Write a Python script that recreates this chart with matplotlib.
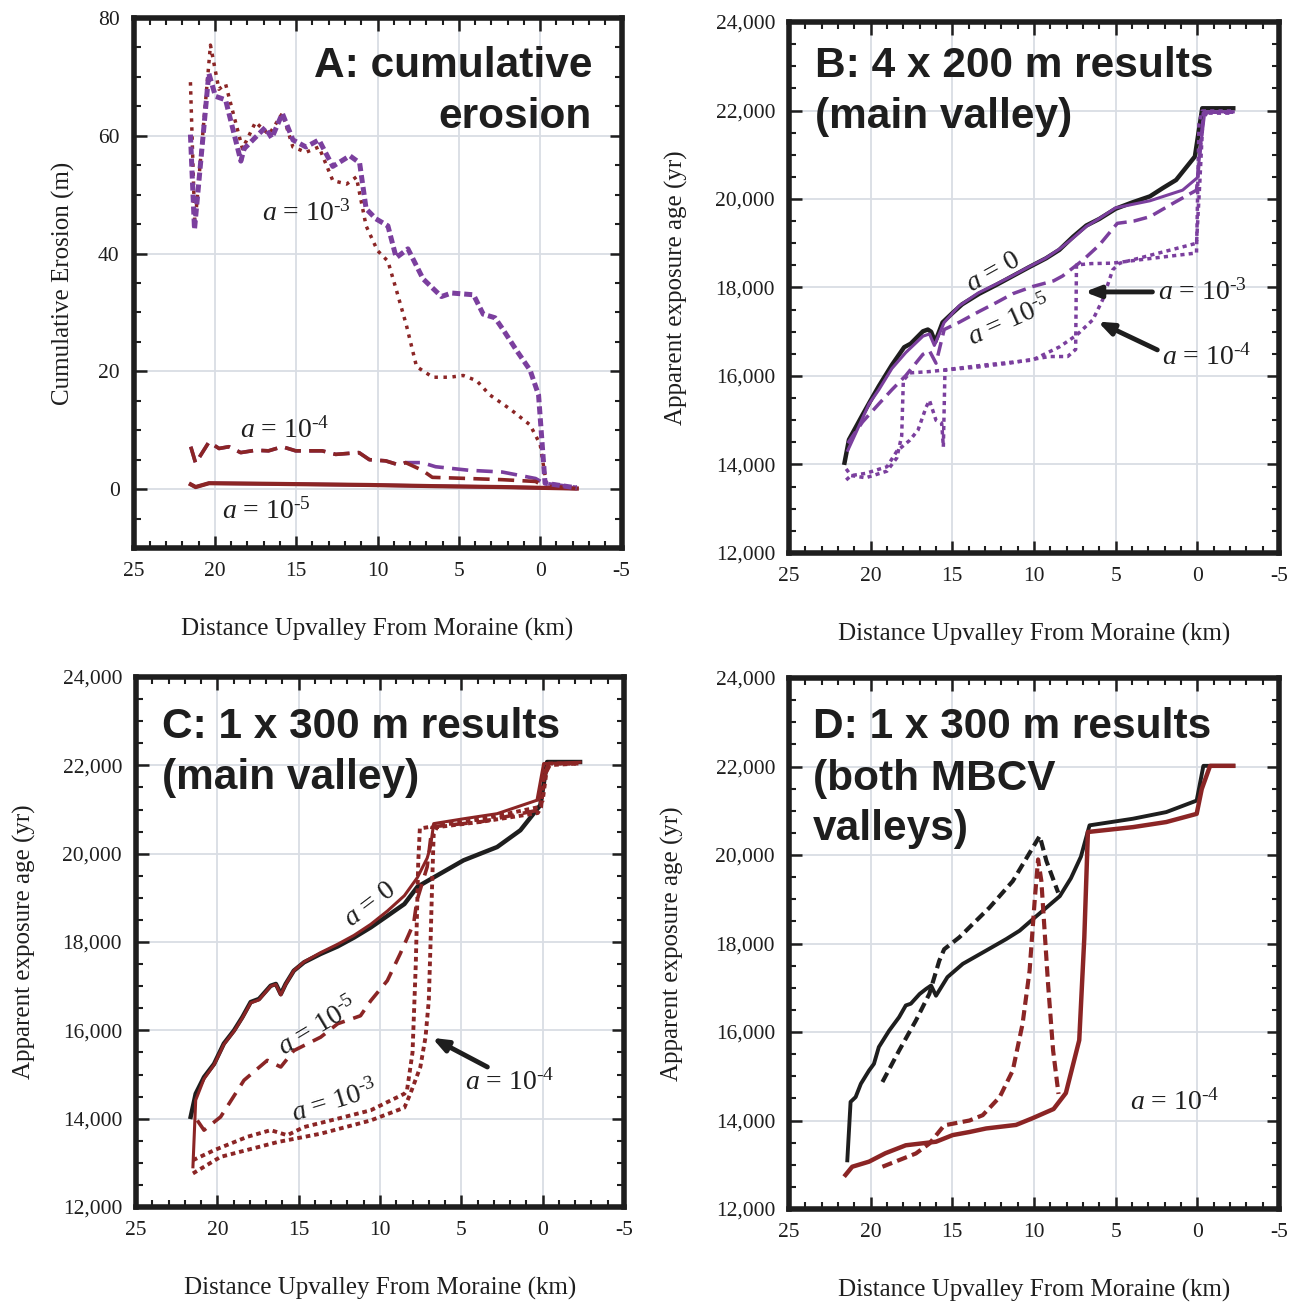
import matplotlib
matplotlib.use("Agg")
import matplotlib.pyplot as plt
from matplotlib.ticker import MultipleLocator, StrMethodFormatter

plt.rcParams["font.family"] = ["Liberation Serif", "DejaVu Serif"]
plt.rcParams["mathtext.fontset"] = "custom"
plt.rcParams["mathtext.rm"] = "Liberation Serif"
plt.rcParams["mathtext.it"] = "Liberation Serif:italic"
plt.rcParams["axes.unicode_minus"] = False

PURPLE = "#7b3f9e"
BROWN = "#8b2525"
BLACK = "#1e1e1e"
GRID = "#d9dde4"

# ---------------- Panel A: cumulative erosion ----------------
a3_purple_x = [21.5, 21.25, 20.37, 19.96, 19.34, 18.4, 18.2, 16.9, 16.5, 15.85, 15.2, 14.4, 13.6, 12.75,
               11.7, 11.1, 10.7, 10.1, 9.36, 8.85, 8.13, 7.2, 6.07, 5.45, 4.1, 3.5, 2.78, 2.26, 1.44,
               0.62, 0.1, -0.3, -2.25]
a3_purple_y = [60.2, 44.1, 70.6, 66.7, 66.1, 55.7, 57.8, 61.4, 59.6, 63.8, 59.3, 58.1, 59.3, 54.8,
               56.6, 55.4, 47.6, 45.9, 44.7, 39.3, 40.8, 35.7, 32.7, 33.3, 33.0, 29.7, 29.1, 27.0, 23.5,
               20.2, 16.0, 1.0, 0.2]
a3_brown_x = [21.5, 21.23, 20.27, 19.75, 19.34, 18.3, 17.5, 16.67, 15.85, 15.2, 14.4, 13.6, 12.75, 11.9,
              11.3, 10.7, 10.0, 9.36, 8.85, 8.23, 7.6, 6.6, 5.55, 4.73, 3.9, 3.1, 1.85, 0.62, 0.0, -0.4,
              -2.25]
a3_brown_y = [69.1, 44.7, 75.4, 67.9, 68.8, 57.8, 62.3, 60.2, 63.8, 58.1, 57.2, 58.1, 52.4, 51.8,
              53.0, 44.7, 40.5, 38.7, 33.9, 27.9, 20.8, 19.0, 19.0, 19.3, 18.4, 16.0, 13.6, 10.9, 7.6, 0.5,
              0.2]
a4_purple_x = [21.48, 21.18, 20.36, 19.74, 19.13, 18.41, 17.49, 16.7, 15.85, 15.03, 13.4, 12.57, 11.14,
               10.5, 9.5, 8.68, 8.27, 7.25, 6.43, 4.38, 2.33, 0.28, -0.23, -2.25]
a4_purple_y = [7.2, 4.4, 8.0, 6.9, 7.2, 6.2, 6.6, 6.5, 7.2, 6.5, 6.5, 5.9, 6.2,
               5.0, 4.8, 4.1, 4.5, 4.5, 3.8, 3.2, 2.9, 1.8, 1.0, 0.3]
a4_brown_x = [21.48, 21.18, 20.36, 19.74, 19.13, 18.41, 17.49, 16.7, 15.85, 15.03, 13.4, 12.57, 11.14,
              10.5, 9.5, 8.68, 8.27, 7.25, 6.63, 4.38, 2.33, 0.28, -0.33, -2.25]
a4_brown_y = [7.2, 4.4, 8.0, 6.9, 7.2, 6.2, 6.6, 6.5, 7.2, 6.5, 6.5, 5.9, 6.2,
              5.0, 4.8, 4.1, 4.5, 3.2, 2.0, 1.8, 1.6, 1.3, 0.3, 0.1]
a5_x = [21.48, 21.18, 20.36, 16.67, 10.5, 6.43, 2.33, -0.33, -2.25]
a5_y = [0.8, 0.35, 1.0, 0.9, 0.7, 0.5, 0.35, 0.2, 0.1]

# ---------------- Panel B: 4 x 200 m results ----------------
b0_x = [21.6, 21.33, 20.5, 20.0, 19.5, 18.7, 17.95, 17.55, 16.8, 16.5, 16.3, 16.05, 15.6, 15.0, 14.4,
        13.35, 12.3, 11.3, 10.3, 9.26, 8.45, 7.6, 6.8, 6.0, 5.0, 4.0, 2.9, 2.1, 1.3, 0.15, -0.3, -2.2]
b0_y = [14040, 14560, 15120, 15450, 15770, 16250, 16650, 16730, 17010, 17050, 17000, 16770, 17210, 17420,
        17620, 17860, 18060, 18260, 18460, 18660, 18850, 19150, 19400, 19550, 19780, 19920, 20060, 20250,
        20430, 20960, 22050, 22050]
b_solid_x = [21.4, 20.9, 20.1, 19.5, 18.7, 17.85, 16.8, 16.4, 16.1, 15.5, 14.6, 13.4, 12.3, 11.3, 10.3,
             9.3, 8.4, 7.6, 6.8, 6.0, 5.0, 2.9, 0.9, 0.0, -0.2, -0.46, -2.2]
b_solid_y = [14320, 14720, 15370, 15690, 16170, 16530, 16900, 16950, 16690, 17210, 17580, 17880, 18080,
             18270, 18470, 18660, 18880, 19120, 19380, 19560, 19800, 19960, 20200, 20480, 21200, 21970,
             21970]
b5_x = [21.4, 20.5, 19.5, 18.7, 17.85, 16.8, 16.4, 16.0, 15.5, 14.6, 13.35, 12.3, 11.3, 10.1, 8.8, 8.25,
        7.0, 6.0, 4.9, 3.9, 2.9, 1.5, 0.05, -0.35, -0.6, -2.2]
b5_y = [14480, 14960, 15370, 15690, 16010, 16490, 16570, 16290, 17050, 17210, 17460, 17660, 17860, 18020,
        18150, 18260, 18620, 18960, 19450, 19500, 19600, 19900, 20200, 21800, 21960, 21960]
b3_x = [21.5, 21.2, 20.3, 19.0, 18.4, 18.1, 18.0, 17.6, 16.4, 15.5, 13.5, 11.5, 9.05, 7.94, 7.45, 7.4,
        6.5, 5.2, 3.0, 0.05, -0.1, -0.3, -2.2]
b3_y = [13900, 13750, 13700, 13850, 14150, 14650, 15900, 16070, 16100, 16135, 16200, 16290, 16440, 16440,
        16600, 18510, 18540, 18550, 18650, 18780, 21700, 21990, 21990]
b4_x = [21.5, 21.2, 20.3, 19.0, 18.4, 17.6, 17.1, 16.6, 16.4, 16.0, 15.65, 15.55, 15.45, 13.0, 10.1,
        8.43, 7.37, 6.4, 5.8, 5.18, 4.75, 0.05, -0.15, -0.36, -2.2]
b4_y = [13650, 13750, 13800, 13950, 14300, 14550, 14780, 15300, 15450, 15000, 14930, 14400, 16140, 16250,
        16360, 16660, 16930, 17270, 17720, 18400, 18550, 19000, 20360, 21940, 21940]

# ---------------- Panel C: 1 x 300 m results (main valley) ----------------
c0_black_x = [21.64, 21.33, 20.82, 20.2, 19.6, 18.97, 18.46, 17.95, 17.44, 16.72, 16.4, 16.1, 15.8, 15.3,
              14.67, 13.65, 12.6, 11.6, 10.57, 9.55, 8.5, 7.7, 6.9, 4.86, 2.8, 1.37, 0.14, -0.27, -2.3]
c0_black_y = [14040, 14565, 14940, 15240, 15700, 16000, 16300, 16640, 16710, 17010, 17050, 16820, 17050,
              17350, 17540, 17730, 17900, 18100, 18330, 18590, 18860, 19250, 19420, 19850, 20150, 20530,
              21100, 22075, 22075]
c0_brown_x = [21.5, 21.33, 20.82, 20.2, 19.6, 18.97, 18.46, 17.95, 17.44, 16.72, 16.4, 16.1, 15.8, 15.3,
              14.67, 13.65, 12.6, 11.6, 10.57, 9.55, 8.5, 7.7, 7.1, 6.9, 6.7, 4.86, 2.8, 0.35, -0.06, -2.3]
c0_brown_y = [12910, 14420, 14900, 15220, 15680, 15980, 16280, 16620, 16690, 17000, 17040, 16800, 17040,
              17350, 17550, 17760, 17950, 18150, 18400, 18700, 19050, 19460, 19900, 20150, 20680, 20790,
              20905, 21210, 22040, 22070]
c5_x = [21.23, 20.82, 19.8, 18.36, 16.93, 16.1, 15.3, 13.65, 12.6, 11.2, 10.57, 9.55, 8.75, 7.93, 7.73,
        7.1, 6.8, 6.5, 3.83, 0.35, 0.04, -0.5, -2.2]
c5_y = [13960, 13740, 14040, 14870, 15320, 15170, 15540, 15845, 16150, 16330, 16670, 17125, 17740, 18420,
        18940, 19700, 20600, 20620, 20720, 20980, 21660, 22040, 22040]
c3_x = [21.5, 20.2, 18.15, 16.72, 15.7, 14.67, 12.6, 10.57, 8.5, 8.34, 8.0, 7.8, 7.65, 7.55, 6.7, 3.8,
        0.3, 0.0, -0.3, -2.2]
c3_y = [13060, 13285, 13590, 13740, 13625, 13810, 14000, 14190, 14565, 14640, 15500, 17500, 19800, 20570,
        20620, 20780, 21050, 21200, 22040, 22040]
c4_x = [21.5, 19.8, 16.3, 13.65, 10.57, 10.0, 8.5, 8.13, 7.52, 7.2, 7.0, 6.9, 6.8, 6.7, 6.5, 3.8, 0.3,
        0.1, -0.15, -2.2]
c4_y = [12760, 13135, 13470, 13660, 13960, 14040, 14250, 14570, 15170, 15850, 16680, 17890, 19250, 20450,
        20600, 20720, 20920, 21050, 22000, 22040]

# ---------------- Panel D: 1 x 300 m results (both MBCV valleys) ----------------
d_black_x = [21.43, 21.23, 20.92, 20.6, 20.1, 19.8, 19.5, 18.87, 18.26, 17.85, 17.54, 17.0, 16.6, 16.3,
             16.0, 15.3, 14.36, 12.93, 11.7, 10.88, 10.1, 8.42, 7.74, 7.13, 6.6, 3.94, 1.9, 0.04, -0.37,
             -2.2]
d_black_y = [13100, 14420, 14530, 14830, 15130, 15280, 15660, 16030, 16335, 16600, 16640, 16860, 16975,
             17050, 16820, 17240, 17540, 17840, 18100, 18290, 18540, 19070, 19475, 19960, 20670, 20820,
             20970, 21230, 22015, 22015]
d_brown_x = [21.54, 21.13, 20.1, 19.1, 17.85, 16.0, 14.98, 13.95, 12.93, 11.1, 10.1, 8.8, 8.05, 7.23,
             6.92, 6.7, 3.94, 1.9, 0.04, -0.27, -0.78, -2.2]
d_brown_y = [12770, 12955, 13070, 13260, 13440, 13520, 13670, 13740, 13820, 13900, 14050, 14260, 14620,
             15815, 18130, 20520, 20630, 20745, 20930, 21490, 22015, 22015]
d_black_dash_x = [19.28, 18.26, 17.23, 16.41, 15.8, 15.5, 14.57, 12.73, 11.3, 9.65, 9.24, 8.52]
d_black_dash_y = [14870, 15580, 16260, 16860, 17610, 17870, 18140, 18810, 19410, 20430, 19865, 19150]
d_brown_dash_x = [19.28, 17.23, 16.4, 15.5, 13.95, 13.14, 12.1, 11.3, 10.7, 10.27, 9.96, 9.75, 9.55,
                  9.14, 8.83, 8.5]
d_brown_dash_y = [12955, 13255, 13480, 13890, 14000, 14120, 14530, 15130, 16185, 17385, 18960, 19900,
                  19415, 17090, 15580, 14600]


def style_axes(ax, ylim, ymajor, yminor, fmt):
    ax.set_xlim(25, -5)
    ax.set_ylim(*ylim)
    ax.xaxis.set_major_locator(MultipleLocator(5))
    ax.xaxis.set_minor_locator(MultipleLocator(1))
    ax.yaxis.set_major_locator(MultipleLocator(ymajor))
    ax.yaxis.set_minor_locator(MultipleLocator(yminor))
    ax.yaxis.set_major_formatter(StrMethodFormatter(fmt))
    ax.grid(True, which="major", color=GRID, lw=1.3)
    ax.set_axisbelow(True)
    ax.tick_params(which="both", direction="in", top=True, right=True, labelsize=15.5,
                   color=BLACK, labelcolor=BLACK)
    ax.tick_params(which="major", length=9, width=1.8, pad=10)
    ax.tick_params(which="minor", length=5, width=1.5)
    for s in ax.spines.values():
        s.set_linewidth(4)
        s.set_color(BLACK)
    ax.set_xlabel("Distance Upvalley From Moraine (km)", fontsize=18, color=BLACK)
    ax.xaxis.set_label_coords(0.5, -0.153)
    ax.xaxis.label.set_verticalalignment("center")


def title(ax, lines, x, ys, ha):
    for txt, y in zip(lines, ys):
        ax.text(x, y, txt, transform=ax.transAxes, ha=ha, va="baseline",
                family="Liberation Sans", weight="bold", fontsize=30.5, color=BLACK)


def lab(ax, x, y, exp, rot=0, ha="left"):
    s = r"$a$ = 0" if exp is None else "$a$ = 10$^{\u2010%s}$" % exp
    ax.text(x, y, s, fontsize=20, rotation=rot, ha=ha, va="center", color=BLACK,
            rotation_mode="anchor")


def arrow(ax, tail, head):
    ax.annotate("", xy=head, xytext=tail,
                arrowprops=dict(arrowstyle="-|>,head_length=0.9,head_width=0.35",
                                color=BLACK, lw=3.5, shrinkA=0, shrinkB=0))


fig = plt.figure(figsize=(12.98, 13.04), dpi=100)
W, H = 1298, 1304


def make_axes(l, t, r, b):
    return fig.add_axes([l / W, 1 - b / H, (r - l) / W, (b - t) / H])


axA = make_axes(133.5, 18, 621.5, 548)
axB = make_axes(789, 22, 1279, 553)
axC = make_axes(136, 677, 624, 1207)
axD = make_axes(789, 678, 1279, 1209)

# ---- A ----
style_axes(axA, (-10, 80), 20, 5, "{x:.0f}")
axA.set_ylabel("Cumulative Erosion (m)", fontsize=18, color=BLACK)
axA.yaxis.set_label_coords(-0.1445, 0.5)
axA.yaxis.label.set_verticalalignment("center")
axA.plot(a5_x, a5_y, color=PURPLE, lw=2.5)
axA.plot(a5_x, a5_y, color=BROWN, lw=3)
axA.plot(a4_purple_x, a4_purple_y, color=PURPLE, lw=2.6, ls=(0, (4.5, 2.3)))
axA.plot(a4_brown_x, a4_brown_y, color=BROWN, lw=2.6, ls=(0, (4.5, 2.3)))
axA.plot(a3_brown_x, a3_brown_y, color=BROWN, lw=2.5, ls=(0, (1, 1.6)))
axA.plot(a3_purple_x, a3_purple_y, color=PURPLE, lw=3.6, ls=(0, (1.6, 0.8)))
title(axA, ["A: cumulative", "erosion"], 0.9396, [0.8887, 0.7925], "right")
lab(axA, 17.1, 46.9, "3")
lab(axA, 18.45, 10.0, "4")
lab(axA, 19.56, -3.7, "5")

# ---- B ----
style_axes(axB, (12000, 24000), 2000, 500, "{x:,.0f}")
axB.set_ylabel("Apparent exposure age (yr)", fontsize=18, color=BLACK)
axB.yaxis.set_label_coords(-0.2306, 0.5)
axB.yaxis.label.set_verticalalignment("center")
axB.plot(b0_x, b0_y, color=BLACK, lw=3.2)
axB.plot(b_solid_x, b_solid_y, color=PURPLE, lw=2.2)
axB.plot(b5_x, b5_y, color=PURPLE, lw=2.5, ls=(0, (4, 2)))
axB.plot(b3_x, b3_y, color=PURPLE, lw=2.5, ls=(0, (1.2, 1.2)))
axB.plot(b4_x, b4_y, color=PURPLE, lw=2.5, ls=(0, (1.2, 1.2)))
title(axB, ["B: 4 x 200 m results", "(main valley)"], 0.053, [0.8964, 0.8004], "left")
lab(axB, 12.5, 18350, None, rot=29, ha="center")
lab(axB, 11.47, 17230, "5", rot=24, ha="center")
lab(axB, 2.4, 17900, "3")
lab(axB, 2.16, 16430, "4")
arrow(axB, (2.75, 17900), (6.9, 17900))
arrow(axB, (2.45, 16590), (6.1, 17230))

# ---- C ----
style_axes(axC, (12000, 24000), 2000, 500, "{x:,.0f}")
axC.set_ylabel("Apparent exposure age (yr)", fontsize=18, color=BLACK)
axC.yaxis.set_label_coords(-0.2295, 0.5)
axC.yaxis.label.set_verticalalignment("center")
axC.plot(c0_black_x, c0_black_y, color=BLACK, lw=3.2)
axC.plot(c0_brown_x, c0_brown_y, color=BROWN, lw=2.2)
axC.plot(c5_x, c5_y, color=BROWN, lw=2.6, ls=(0, (4, 2.5)))
axC.plot(c3_x, c3_y, color=BROWN, lw=2.8, ls=(0, (1.2, 1.0)))
axC.plot(c4_x, c4_y, color=BROWN, lw=2.8, ls=(0, (1.2, 1.0)))
title(axC, ["C: 1 x 300 m results", "(main valley)"], 0.0533, [0.885, 0.7887], "left")
lab(axC, 10.62, 18840, None, rot=37, ha="center")
lab(axC, 13.8, 16075, "5", rot=31, ha="center")
lab(axC, 12.77, 14375, "3", rot=17, ha="center")
lab(axC, 4.78, 14830, "4")
arrow(axC, (3.4, 15170), (6.8, 15830))

# ---- D ----
style_axes(axD, (12000, 24000), 2000, 500, "{x:,.0f}")
axD.set_ylabel("Apparent exposure age (yr)", fontsize=18, color=BLACK)
axD.yaxis.set_label_coords(-0.2388, 0.5)
axD.yaxis.label.set_verticalalignment("center")
axD.plot(d_black_x, d_black_y, color=BLACK, lw=2.8)
axD.plot(d_brown_x, d_brown_y, color=BROWN, lw=3.2)
axD.plot(d_black_dash_x, d_black_dash_y, color=BLACK, lw=3, ls=(0, (2.5, 1.3)))
axD.plot(d_brown_dash_x, d_brown_dash_y, color=BROWN, lw=3, ls=(0, (2.5, 1.3)))
title(axD, ["D: 1 x 300 m results", "(both MBCV", "valleys)"], 0.049, [0.887, 0.789, 0.695], "left")
lab(axD, 4.12, 14400, "4")

fig.savefig("out.png", dpi=100)
